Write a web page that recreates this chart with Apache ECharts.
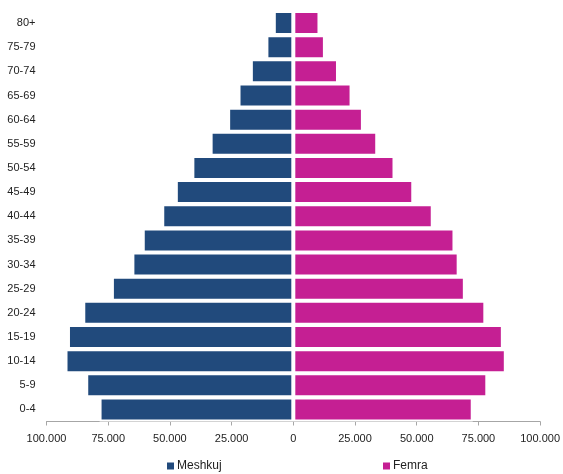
<!DOCTYPE html>
<html>
<head>
<meta charset="utf-8">
<script src="https://cdn.jsdelivr.net/npm/echarts@6/dist/echarts.min.js"></script>
<style>html,body{margin:0;padding:0;background:#fff}#c{width:563px;height:474px}</style>
</head>
<body>
<div id="c"></div>
<script>
const categories = ['0-4','5-9','10-14','15-19','20-24','25-29','30-34','35-39','40-44','45-49','50-54','55-59','60-64','65-69','70-74','75-79','80+'];
const meshkuj = [78500, 83900, 92300, 91300, 85100, 73500, 65200, 61000, 53100, 47600, 40900, 33500, 26400, 22200, 17200, 10900, 7900];
const femra = [72700, 78600, 86100, 84900, 77800, 69500, 67000, 65300, 56500, 48600, 41000, 34000, 28200, 23600, 18100, 12800, 10600];
const xTicks = [-100000, -75000, -50000, -25000, 0, 25000, 50000, 75000, 100000];

const FONT = "'Liberation Sans', Arial, sans-serif";
function fmt(v){
  const a = Math.abs(v);
  if (a === 0) return '0';
  return String(a).replace(/\B(?=(\d{3})+(?!\d))/g, '.');
}
const chart = echarts.init(document.getElementById('c'), null, {renderer:'canvas'});
chart.setOption({
  animation: false,
  textStyle: {fontFamily: FONT},
  grid: {left: 46.5, right: 20, top: 11, bottom: 52.5, containLabel: false},
  legend: [
    {data: ['Meshkuj'], left: 160, top: 455, icon: 'rect', itemWidth: 9, itemHeight: 9, itemGap: 3,
     textStyle: {fontFamily: FONT, fontSize: 12, color: '#222', padding: [0,0,0,-3]}},
    {data: ['Femra'], left: 376, top: 455, icon: 'rect', itemWidth: 9, itemHeight: 9, itemGap: 3,
     textStyle: {fontFamily: FONT, fontSize: 12, color: '#222', padding: [0,0,0,-3]}}
  ],
  xAxis: {
    type: 'value', min: xTicks[0], max: xTicks[xTicks.length-1], interval: 25000,
    axisLine: {show: true, lineStyle: {color: '#a6a6a6', width: 1}},
    axisTick: {show: true, length: 4, lineStyle: {color: '#a6a6a6'}},
    splitLine: {show: false},
    axisLabel: {formatter: fmt, fontFamily: FONT, fontSize: 11, color: '#222', margin: 12}
  },
  yAxis: {
    type: 'category', data: categories,
    axisLine: {show: false}, axisTick: {show: false},
    axisLabel: {fontFamily: FONT, fontSize: 11, color: '#222', margin: 11}
  },
  series: [
    {name: 'Meshkuj', type: 'bar', data: meshkuj.map(v => -v), barWidth: 24, barGap: '-100%',
     itemStyle: {color: '#214a7c', borderColor: '#ffffff', borderWidth: 2}},
    {name: 'Femra', type: 'bar', data: femra, barWidth: 24, barGap: '-100%',
     itemStyle: {color: '#c51f93', borderColor: '#ffffff', borderWidth: 2}}
  ]
});
</script>
</body>
</html>
